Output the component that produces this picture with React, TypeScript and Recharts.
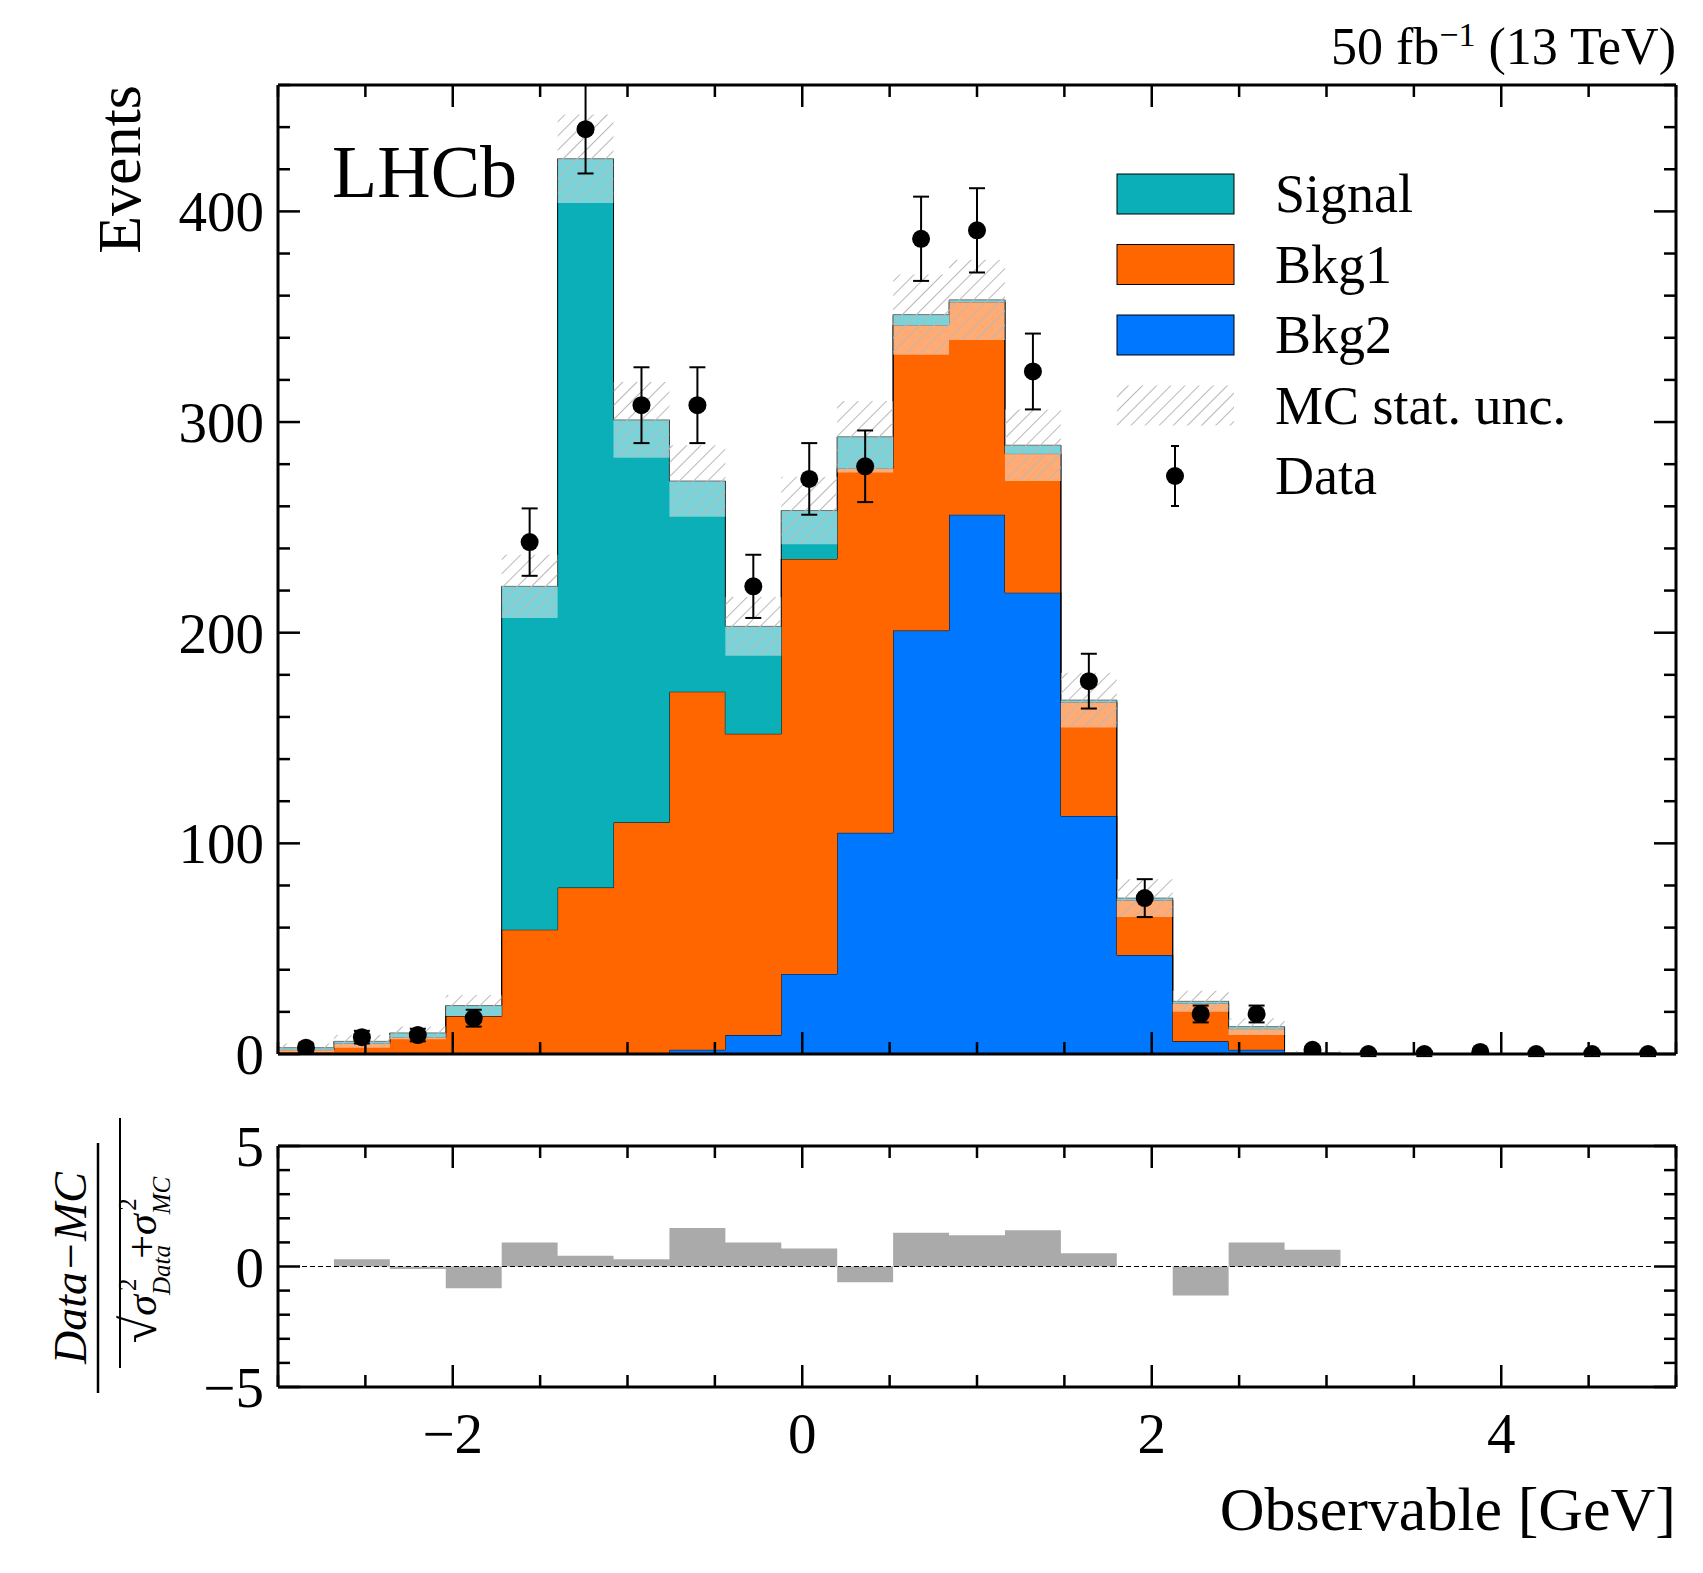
import React from 'react';
import {
  ComposedChart,
  Area,
  Scatter,
  ErrorBar,
  XAxis,
  YAxis,
  ReferenceLine,
} from 'recharts';

const binEdges = [-3, -2.68, -2.36, -2.04, -1.72, -1.4, -1.08, -0.76, -0.44, -0.12, 0.2, 0.52, 0.84, 1.16, 1.48, 1.8, 2.12, 2.44, 2.76, 3.08, 3.4, 3.72, 4.04, 4.36, 4.68, 5];
const binCenters = [-2.84, -2.52, -2.2, -1.88, -1.56, -1.24, -0.92, -0.6, -0.28, 0.04, 0.36, 0.68, 1.0, 1.32, 1.64, 1.96, 2.28, 2.6, 2.92, 3.24, 3.56, 3.88, 4.2, 4.52, 4.84];

const bkg2 = [0, 0, 0, 0, 0, 0, 0, 2, 9, 38, 105, 201, 256, 219, 113, 47, 6, 2, 0, 0, 0, 0, 0, 0, 0];
const bkg1 = [2, 5, 8, 18, 59, 79, 110, 170, 143, 197, 173, 145, 101, 66, 54, 26, 18, 10, 0.5, 0, 0, 0, 0, 0, 0];
const signal = [1, 1, 2, 5, 163, 346, 191, 100, 51, 23, 15, 5, 1, 4, 1, 1, 1, 1, 0, 0, 0, 0, 0, 0, 0];
const mcUnc = [2, 3, 3, 5, 15, 21, 18, 17, 14, 16, 17, 19, 19, 17, 13, 9, 5, 4, 1, 0.5, 0.5, 0.5, 0.5, 0.5, 0.5];

const dataCounts = [3, 8, 9, 17, 243, 439, 308, 308, 222, 273, 279, 387, 391, 324, 177, 74, 19, 19, 2, 0, 0, 1, 0, 0, 0];
const dataErr = [2, 3, 3, 4, 16, 21, 18, 18, 15, 17, 17, 20, 20, 18, 13, 9, 4, 4, 1.4, 1, 1, 1, 1, 1, 1];

const pull = [0, 0.3, -0.1, -0.9, 1.0, 0.45, 0.3, 1.6, 1.0, 0.75, -0.65, 1.4, 1.3, 1.5, 0.55, 0, -1.2, 1.0, 0.7, 0, 0, 0, 0, 0, 0];

const xMajor = [-2, 0, 2, 4];
const xTicks = [-3, -2.5, -2, -1.5, -1, -0.5, 0, 0.5, 1, 1.5, 2, 2.5, 3, 3.5, 4, 4.5, 5];
const yMajor = [0, 100, 200, 300, 400];
const yTicks = [0, 20, 40, 60, 80, 100, 120, 140, 160, 180, 200, 220, 240, 260, 280, 300, 320, 340, 360, 380, 400, 420, 440, 460];
const rMajor = [-5, 0, 5];
const rTicks = [-5, -4, -3, -2, -1, 0, 1, 2, 3, 4, 5];

const FONT = '"Liberation Serif", "DejaVu Serif", serif';
const W = 1703;

const stackRows = binEdges.map((x, i) => {
  const b = Math.min(i, 24);
  const total = bkg2[b] + bkg1[b] + signal[b];
  return {
    x,
    bkg2: bkg2[b],
    bkg1: bkg1[b],
    signal: signal[b],
    band: [Math.max(0, total - mcUnc[b]), total + mcUnc[b]],
  };
});
const pointRows = binCenters.map((x, i) => ({ x, y: dataCounts[i], err: dataErr[i] }));
const pullRows = binEdges.map((x, i) => ({ x, r: pull[Math.min(i, 24)] }));

const isMajor = (list: number[], v: number) => list.some((m) => Math.abs(m - v) < 1e-6);

const makeTick = (side: 'bottom' | 'top' | 'left' | 'right', major: number[], labels: boolean) => (props: any) => {
  const { x, y, payload } = props;
  const v = payload.value;
  const big = isMajor(major, v);
  const len = big ? 22 : 12;
  let line;
  if (side === 'bottom') line = <line x1={x} y1={y} x2={x} y2={y - len} stroke="#000" strokeWidth={2.5} />;
  else if (side === 'top') line = <line x1={x} y1={y} x2={x} y2={y + len} stroke="#000" strokeWidth={2.5} />;
  else if (side === 'left') line = <line x1={x} y1={y} x2={x + len} y2={y} stroke="#000" strokeWidth={2.5} />;
  else line = <line x1={x} y1={y} x2={x - len} y2={y} stroke="#000" strokeWidth={2.5} />;
  const label = v < 0 ? `\u2212${Math.abs(v)}` : `${v}`;
  return (
    <g>
      {line}
      {labels && big && side === 'bottom' && (
        <text x={x} y={y + 66} textAnchor="middle" fontFamily={FONT} fontSize={57} fill="#000">{label}</text>
      )}
      {labels && big && side === 'left' && (
        <text x={x - 14} y={y + 20} textAnchor="end" fontFamily={FONT} fontSize={57} fill="#000">{label}</text>
      )}
    </g>
  );
};

const axisLine = { stroke: '#000', strokeWidth: 3 };

const Dot = (props: any) => <circle cx={props.cx} cy={props.cy} r={9} fill="#000" />;

const legendItems = [
  { label: 'Signal', color: '#0bafb8' },
  { label: 'Bkg1', color: '#ff6600' },
  { label: 'Bkg2', color: '#0077ff' },
  { label: 'MC stat. unc.', color: 'hatch' },
  { label: 'Data', color: 'data' },
];

export default function App() {
  const common = { type: 'number' as const, interval: 0 as const, tickSize: 0, tickMargin: 0, tickLine: false, axisLine, allowDataOverflow: true };
  return (
    <div style={{ position: 'absolute', left: 0, top: 0, width: W, height: 1573, background: '#fff', fontFamily: FONT }}>
      <div style={{ position: 'absolute', left: 0, top: 0 }}>
        <ComposedChart width={W} height={1100} data={stackRows} margin={{ top: 84, right: 26, left: 277, bottom: 45 }}>
          <defs>
            <pattern id="hatch" width="10" height="10" patternUnits="userSpaceOnUse" patternTransform="rotate(45)">
              <rect width="10" height="10" fill="#fff" fillOpacity={0.45} />
              <line x1="0" y1="0" x2="0" y2="10" stroke="#b8b8b8" strokeWidth={2} />
            </pattern>
          </defs>
          <XAxis xAxisId="b" dataKey="x" domain={[-3, 5]} ticks={xTicks} height={1} tick={makeTick('bottom', xMajor, false)} {...common} />
          <XAxis xAxisId="t" orientation="top" dataKey="x" domain={[-3, 5]} ticks={xTicks} height={1} tick={makeTick('top', xMajor, false)} {...common} />
          <YAxis yAxisId="l" domain={[0, 460]} ticks={yTicks} width={1} tick={makeTick('left', yMajor, true)} {...common} />
          <YAxis yAxisId="r" orientation="right" domain={[0, 460]} ticks={yTicks} width={1} tick={makeTick('right', yMajor, false)} {...common} />
          <Area xAxisId="b" yAxisId="l" type="stepAfter" dataKey="bkg2" stackId="s" fill="#0077ff" fillOpacity={1} stroke="#000" strokeWidth={1} isAnimationActive={false} />
          <Area xAxisId="b" yAxisId="l" type="stepAfter" dataKey="bkg1" stackId="s" fill="#ff6600" fillOpacity={1} stroke="#000" strokeWidth={1} isAnimationActive={false} />
          <Area xAxisId="b" yAxisId="l" type="stepAfter" dataKey="signal" stackId="s" fill="#0bafb8" fillOpacity={1} stroke="#000" strokeWidth={1} isAnimationActive={false} />
          <Area xAxisId="b" yAxisId="l" type="stepAfter" dataKey="band" fill="url(#hatch)" fillOpacity={1} stroke="none" isAnimationActive={false} />
          <Scatter xAxisId="b" yAxisId="l" data={pointRows} dataKey="y" shape={<Dot />} isAnimationActive={false}>
            <ErrorBar dataKey="err" direction="y" width={8} stroke="#000" strokeWidth={2} />
          </Scatter>
        </ComposedChart>
      </div>

      <div style={{ position: 'absolute', left: 0, top: 1100 }}>
        <ComposedChart width={W} height={473} data={pullRows} margin={{ top: 45, right: 26, left: 277, bottom: 185 }}>
          <XAxis xAxisId="b" dataKey="x" domain={[-3, 5]} ticks={xTicks} height={1} tick={makeTick('bottom', xMajor, true)} {...common} />
          <XAxis xAxisId="t" orientation="top" dataKey="x" domain={[-3, 5]} ticks={xTicks} height={1} tick={makeTick('top', xMajor, false)} {...common} />
          <YAxis yAxisId="l" domain={[-5, 5]} ticks={rTicks} width={1} tick={makeTick('left', rMajor, true)} {...common} />
          <YAxis yAxisId="r" orientation="right" domain={[-5, 5]} ticks={rTicks} width={1} tick={makeTick('right', rMajor, false)} {...common} />
          <Area xAxisId="b" yAxisId="l" type="stepAfter" dataKey="r" baseValue={0} fill="#aaaaaa" fillOpacity={1} stroke="none" isAnimationActive={false} />
          <ReferenceLine xAxisId="b" yAxisId="l" y={0} stroke="#000" strokeWidth={1} strokeDasharray="5 3" />
        </ComposedChart>
      </div>

      <div style={{ position: 'absolute', right: 27, top: 18, fontSize: 52, lineHeight: 1 }}>
        50 fb<sup style={{ fontSize: 34 }}>{'\u22121'}</sup> (13 TeV)
      </div>
      <div style={{ position: 'absolute', left: 332, top: 135, fontSize: 74, lineHeight: 1 }}>LHCb</div>
      <div style={{ position: 'absolute', right: 27, top: 1478, fontSize: 62, lineHeight: 1 }}>Observable [GeV]</div>

      <svg style={{ position: 'absolute', left: 0, top: 0 }} width={W} height={1573}>
        <defs>
          <pattern id="lhatch" width="10" height="10" patternUnits="userSpaceOnUse" patternTransform="rotate(45)">
            <line x1="0" y1="0" x2="0" y2="10" stroke="#b8b8b8" strokeWidth={2} />
          </pattern>
        </defs>
        <text transform="translate(140,85) rotate(-90)" textAnchor="end" fontFamily={FONT} fontSize={62}>Events</text>
        <g transform="translate(98,1268) rotate(-90)">
          <text x={0} y={-12} textAnchor="middle" fontFamily={FONT} fontSize={46} fontStyle="italic">Data{'\u2212'}MC</text>
          <line x1={-125} y1={0} x2={125} y2={0} stroke="#000" strokeWidth={2.5} />
          <text x={8} y={58} textAnchor="middle" fontFamily={FONT} fontSize={42}>
            <tspan fontSize={50}>{'\u221a'}</tspan>
            <tspan fontStyle="italic">{'\u03c3'}</tspan>
            <tspan fontSize={25} dy={14} fontStyle="italic">Data</tspan>
            <tspan fontSize={25} dy={-34} dx={-46}>2</tspan>
            <tspan dy={20} dx={20}>+</tspan>
            <tspan fontStyle="italic">{'\u03c3'}</tspan>
            <tspan fontSize={25} dy={14} fontStyle="italic">MC</tspan>
            <tspan fontSize={25} dy={-34} dx={-34}>2</tspan>
          </text>
          <line x1={-100} y1={22} x2={150} y2={22} stroke="#000" strokeWidth={2} />
        </g>
        {legendItems.map((it, i) => {
          const cy = 194 + i * 70.5;
          return (
            <g key={it.label}>
              {it.color === 'data' ? (
                <g>
                  <line x1={1175} y1={cy - 30} x2={1175} y2={cy + 30} stroke="#000" strokeWidth={2} />
                  <line x1={1171} y1={cy - 30} x2={1179} y2={cy - 30} stroke="#000" strokeWidth={2} />
                  <line x1={1171} y1={cy + 30} x2={1179} y2={cy + 30} stroke="#000" strokeWidth={2} />
                  <circle cx={1175} cy={cy} r={9} fill="#000" />
                </g>
              ) : it.color === 'hatch' ? (
                <rect x={1117} y={cy - 20} width={117} height={40} fill="url(#lhatch)" />
              ) : (
                <rect x={1117} y={cy - 20} width={117} height={40} fill={it.color} stroke="#000" strokeWidth={1} />
              )}
              <text x={1275} y={cy + 18} fontFamily={FONT} fontSize={54}>{it.label}</text>
            </g>
          );
        })}
      </svg>
    </div>
  );
}
